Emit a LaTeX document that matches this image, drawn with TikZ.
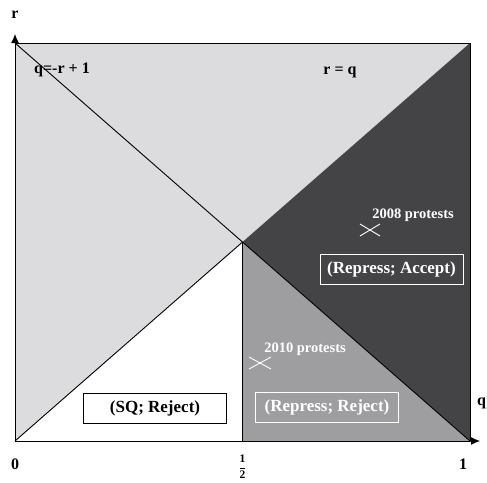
\documentclass[tikz,border=0pt]{standalone}
\usepackage{fontspec}
\setmainfont{Liberation Serif}
\usetikzlibrary{arrows.meta,calc}
\definecolor{lightg}{HTML}{DCDCDE}
\definecolor{darkg}{HTML}{444446}
\definecolor{midg}{HTML}{9E9EA0}
\tikzset{
  lbl/.style={font=\bfseries\fontsize{16}{18}\selectfont, inner sep=0pt},
  wlbl/.style={inner sep=0pt, text=white, font=\bfseries\fontsize{14.5}{16}\selectfont},
  boxw/.style={draw=white, line width=0.8pt, text=white, font=\bfseries\fontsize{17}{19}\selectfont, minimum width=143pt, minimum height=30pt, inner sep=0pt},
  boxb/.style={draw=black, fill=white, line width=0.8pt, font=\bfseries\fontsize{17}{19}\selectfont, minimum width=143pt, minimum height=30pt, inner sep=0pt},
  xmark/.style={white, line width=0.9pt},
  axis/.style={line width=1pt, -{Latex[length=9pt,width=8pt]}}
}
\begin{document}
\begin{tikzpicture}[x=1pt,y=-1pt]
\useasboundingbox (0,0) rectangle (487,482);
\coordinate (O) at (15,441);
\coordinate (TL) at (15,43);
\coordinate (TR) at (470,43);
\coordinate (BR) at (470,441);
\coordinate (C) at (242.5,242);
\coordinate (H) at (242.5,441);
\coordinate (YT) at (15,34);
\coordinate (XR) at (480,441);
% regions
\fill[lightg] (O) -- (TL) -- (TR) -- (BR) -- cycle;
\fill[darkg] (C) -- (TR) -- (BR) -- cycle;
\fill[midg] (C) -- (H) -- (BR) -- cycle;
\fill[white] (C) -- (O) -- (H) -- cycle;
% lines
\draw[line width=0.9pt] (TL) -- (TR) -- (BR);
\draw[line width=0.9pt] (TL) -- (BR);
\draw[line width=0.9pt] (C) -- (H);
\draw[line width=0.9pt] (O) -- (C);
% axes
\draw[axis] (O) -- (YT);
\draw[axis] (O) -- (XR);
% axis labels
\node[lbl] (rlab) at (15,15) {r};
\node[lbl, anchor=west] (qlab) at (477,403) {q};
\node[lbl] (zero) at (15,464) {0};
\node[lbl] (one) at (463,464) {1};
\node[inner sep=0pt, font=\bfseries\fontsize{11.5}{13}\selectfont] (half) at (242.5,467) {$\displaystyle\frac{\textbf{1}}{\textbf{2}}$};
% line labels
\node[lbl] (eq1) at (62,70) {q=-r + 1};
\node[lbl] (eq2) at (340,72) {r = q};
% protests
\node[wlbl] (p2008) at (413,215) {2008 protests};
\node[wlbl] (p2010) at (305,349) {2010 protests};
\coordinate (x1) at (370,230);
\coordinate (x2) at (260,363);
\draw[xmark] ($(x1)+(-10,-6)$) -- ($(x1)+(10,6)$);
\draw[xmark] ($(x1)+(-10,6)$) -- ($(x1)+(10,-6)$);
\draw[xmark] ($(x2)+(-11,-6)$) -- ($(x2)+(11,6)$);
\draw[xmark] ($(x2)+(-11,6)$) -- ($(x2)+(11,-6)$);
% boxes
\node[boxw] (ra) at (391.5,269) {(Repress; Accept)};
\node[boxw] (rr) at (327,407) {(Repress; Reject)};
\node[boxb] (sq) at (155,408) {(SQ; Reject)};
\end{tikzpicture}
\end{document}
